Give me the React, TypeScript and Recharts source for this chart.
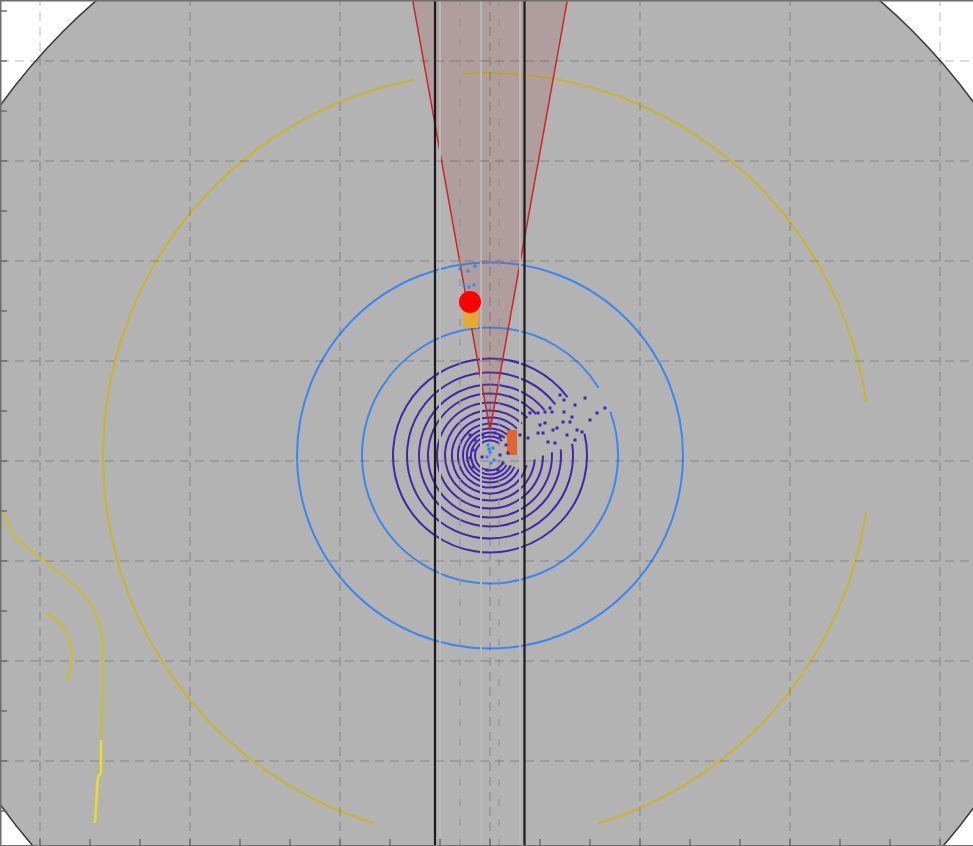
import React from "react";
import { ComposedChart, XAxis, YAxis, ReferenceArea, ReferenceLine, Line, Scatter } from "recharts";

const W = 973;
const H = 846;
const AX = 12; // axis size (mirrored axes sit inside the plot)

// axes limits and ticks (m)
const xLimits = [-49, 48.3];
const yLimits = [-38.5, 46.1];
const xTicks = [-45, -40, -35, -30, -25, -20, -15, -10, -5, 0, 5, 10, 15, 20, 25, 30, 35, 40, 45];
const yTicks = [-35, -30, -25, -20, -15, -10, -5, 0, 5, 10, 15, 20, 25, 30, 35, 40, 45];
const xGrid = [-45, -30, -15, 0, 15, 30, 45];
const yGrid = [-30, -20, -10, 0, 10, 20, 30, 40];

// plot coverage (gray disc)
const coverageCenter = [-0.2, 0.6];
const coverageRadius = 60;

// road
const laneBoundaries = [-5.5, 3.45];
const laneMarkings = [-3.0, 0.9];
const laneStripes = [-5.0, -0.9, 3.0];

// lidar rings around ego (radius, gap start/end in degrees)
const egoCenter = [0, 0.55];
const ringRadii = [9.7, 8.3, 7.1, 6.2, 5.3, 4.5, 3.8, 3.2, 2.7, 2.3, 1.9, 1.5];
const ringGapFrom = [13, 8, 5, 3, 0, -5, -15, -25, -25, -25, -30, -30];
const ringGapTo = [37, 38, 40, 42, 45, 45, 45, 48, 50, 50, 50, 50];
const beamRadii = [12.8, 19.3];
const beamGapFrom = [20, 0];
const beamGapTo = [32, 0];

// road boundary detections
const roadCenter = [-0.35, 0.45];
const roadRadius = 38.35;
const roadArcFrom = [100.9, 286.8, 8.2];
const roadArcTo = [253, 351.8, 93.4];

const edgeA = [
  { x: -48.7, y: -5.2 }, { x: -48.2, y: -6.4 }, { x: -47.5, y: -7.6 }, { x: -45.0, y: -9.7 },
  { x: -42.7, y: -11.4 }, { x: -41.0, y: -12.9 }, { x: -39.7, y: -14.6 }, { x: -39.0, y: -16.2 },
  { x: -38.7, y: -18.6 }, { x: -38.7, y: -21.9 }, { x: -38.8, y: -25.2 }, { x: -38.9, y: -27.9 },
];
const edgeABottom = [
  { x: -38.9, y: -27.9 }, { x: -38.9, y: -31.2 }, { x: -39.2, y: -31.6 }, { x: -39.3, y: -32.9 }, { x: -39.5, y: -36.2 },
];
const edgeB = [
  { x: -44.5, y: -15.2 }, { x: -43.7, y: -15.6 }, { x: -42.7, y: -16.6 }, { x: -42.0, y: -17.9 },
  { x: -41.8, y: -19.9 }, { x: -42.0, y: -20.9 }, { x: -42.3, y: -21.9 },
];

// radar coverage
const sensorApex = [0, 3.1];
const sensorHalfFov = 10.2;
const sensorRange = 50;

// detections / tracks
const trackPos = [{ x: -2.0, y: 15.9 }];
const trackBox = [-2.7, -1.2, 13.3, 14.9];
const nearBox = [1.7, 2.7, 0.6, 3.1];

const lidarPoints = [
  { x: 4.0, y: 4.8 }, { x: 4.8, y: 4.8 }, { x: 5.5, y: 4.9 }, { x: 6.2, y: 4.9 }, { x: 6.0, y: 5.3 },
  { x: 7.4, y: 6.1 }, { x: 7.4, y: 4.9 }, { x: 9.5, y: 6.3 }, { x: 10.7, y: 4.8 }, { x: 5.5, y: 3.8 },
  { x: 4.8, y: 2.8 }, { x: 5.3, y: 2.8 }, { x: 6.7, y: 3.3 }, { x: 7.7, y: 2.6 }, { x: 8.7, y: 3.1 },
  { x: 9.2, y: 2.9 }, { x: 5.8, y: 1.9 }, { x: 6.5, y: 1.8 }, { x: 3.8, y: 2.3 }, { x: 3.0, y: 2.6 },
  { x: 8.2, y: 4.4 }, { x: 7.3, y: 3.9 }, { x: 8.0, y: 3.9 }, { x: 6.3, y: 3.1 }, { x: 8.5, y: 2.1 },
  { x: 5.0, y: 3.6 }, { x: 11.5, y: 5.3 }, { x: 10.0, y: 4.1 }, { x: 7.0, y: 6.6 }, { x: 8.5, y: 5.6 },
  { x: -2.0, y: 2.6 }, { x: -1.5, y: 2.1 }, { x: -0.7, y: 2.6 }, { x: 0.5, y: 2.8 }, { x: 1.0, y: 2.4 },
  { x: -1.7, y: 1.1 }, { x: -0.8, y: 0.4 }, { x: 1.0, y: 0.6 }, { x: -1.7, y: -0.6 }, { x: -0.3, y: -0.9 },
  { x: 0.8, y: -0.9 }, { x: -2.0, y: 0.3 }, { x: 1.3, y: -0.2 }, { x: 1.6, y: 1.6 }, { x: 1.8, y: 0.8 },
];
const egoPoints = [
  { x: -0.2, y: 1.6 }, { x: 0.3, y: 1.3 }, { x: 0, y: 0.9 }, { x: -0.3, y: 0.4 }, { x: 0.4, y: 0.1 },
  { x: 0.1, y: -0.2 }, { x: -0.1, y: 1.2 },
];
const radarDets = [
  { x: -2.6, y: 17.6 }, { x: -1.6, y: 17.6 }, { x: -2.1, y: 17.4 }, { x: -3.0, y: 19.2 }, { x: -2.2, y: 19.0 }, { x: -1.5, y: 19.5 },
];

const rad = (d: number) => (d * Math.PI) / 180;

function arcPath(cx: number, cy: number, rx: number, ry: number, a0: number, a1: number) {
  const x0 = cx + rx * Math.cos(rad(a0));
  const y0 = cy - ry * Math.sin(rad(a0));
  const x1 = cx + rx * Math.cos(rad(a1));
  const y1 = cy - ry * Math.sin(rad(a1));
  const large = a1 - a0 > 180 ? 1 : 0;
  return `M${x0},${y0} A${rx},${ry} 0 ${large} 0 ${x1},${y1}`;
}

// circle (or arcs of it) drawn inside the box the reference area gets from the scales
const ringShape = (segments: number[][], color: string, width: number) => (p: any) => {
  const rx = p.width / 2;
  const ry = p.height / 2;
  const cx = p.x + rx;
  const cy = p.y + ry;
  if (segments.length === 0) {
    return <ellipse cx={cx} cy={cy} rx={rx} ry={ry} fill="none" stroke={color} strokeWidth={width} />;
  }
  return (
    <path
      d={segments.map(([a, b]) => arcPath(cx, cy, rx, ry, a, b)).join(" ")}
      fill="none"
      stroke={color}
      strokeWidth={width}
    />
  );
};

const discShape = (p: any) => (
  <ellipse
    cx={p.x + p.width / 2}
    cy={p.y + p.height / 2}
    rx={p.width / 2}
    ry={p.height / 2}
    fill="#b3b3b3"
    stroke="#363636"
    strokeWidth={1.5}
  />
);

const coneShape = (p: any) => {
  const pts = `${p.x + p.width / 2},${p.y + p.height} ${p.x},${p.y} ${p.x + p.width},${p.y}`;
  return <polygon points={pts} fill="#a95454" fillOpacity={0.22} stroke="#c8282a" strokeWidth={1.5} />;
};

const square = (color: string, size: number) => (p: any) => (
  <rect x={p.cx - size / 2} y={p.cy - size / 2} width={size} height={size} fill={color} />
);

const trackShape = (p: any) => <circle cx={p.cx} cy={p.cy} r={11} fill="#ff0000" />;

// tick marks only, no labels
const noLabel = () => <g />;

function circleBox(center: number[], r: number) {
  return { x1: center[0] - r, x2: center[0] + r, y1: center[1] - r, y2: center[1] + r };
}

export default function App() {
  const coneW = sensorRange * Math.sin(rad(sensorHalfFov));
  const coneH = sensorRange * Math.cos(rad(sensorHalfFov));
  const axisColor = "#6e6e6e";

  return (
    <div style={{ position: "absolute", left: 0, top: 0, background: "#fff" }}>
      <ComposedChart width={W} height={H} margin={{ top: 0, right: 0, bottom: 0, left: 0 }}>
        <ReferenceArea {...circleBox(coverageCenter, coverageRadius)} ifOverflow="hidden" shape={discShape} />

        {laneStripes.map((x) => (
          <ReferenceLine key={`s${x}`} x={x} stroke="#b9b9b9" strokeWidth={2} />
        ))}
        {laneMarkings.map((x) => (
          <ReferenceLine key={`m${x}`} x={x} stroke="#949494" strokeWidth={1.2} strokeDasharray="7 13" />
        ))}
        {xGrid.map((x) => (
          <ReferenceLine key={`gx${x}`} x={x} stroke="#262626" strokeOpacity={0.32} strokeDasharray="9 6" />
        ))}
        {yGrid.map((y) => (
          <ReferenceLine key={`gy${y}`} y={y} stroke="#262626" strokeOpacity={0.32} strokeDasharray="9 6" />
        ))}

        <ReferenceArea
          {...circleBox(roadCenter, roadRadius)}
          ifOverflow="hidden"
          shape={ringShape(roadArcFrom.map((a, i) => [a, roadArcTo[i]]), "#c9b52b", 2)}
        />

        {beamRadii.map((r, i) => (
          <ReferenceArea
            key={`b${r}`}
            {...circleBox(egoCenter, r)}
            ifOverflow="hidden"
            shape={ringShape(
              beamGapFrom[i] === beamGapTo[i] ? [] : [[beamGapTo[i], beamGapFrom[i] + 360]],
              "#3d86f2",
              2
            )}
          />
        ))}
        {ringRadii.map((r, i) => (
          <ReferenceArea
            key={`r${r}`}
            {...circleBox(egoCenter, r)}
            ifOverflow="hidden"
            shape={ringShape([[ringGapTo[i], ringGapFrom[i] + 360]], "#4128a8", 2)}
          />
        ))}

        <ReferenceArea
          x1={sensorApex[0] - coneW}
          x2={sensorApex[0] + coneW}
          y1={sensorApex[1]}
          y2={sensorApex[1] + coneH}
          ifOverflow="hidden"
          shape={coneShape}
        />

        <ReferenceArea x1={trackBox[0]} x2={trackBox[1]} y1={trackBox[2]} y2={trackBox[3]} ifOverflow="hidden" fill="#e9a832" fillOpacity={1} />
        <ReferenceArea x1={nearBox[0]} x2={nearBox[1]} y1={nearBox[2]} y2={nearBox[3]} ifOverflow="hidden" fill="#e0662c" fillOpacity={1} />

        <Line data={edgeA} dataKey="y" type="linear" stroke="#cdbd2a" strokeWidth={2} dot={false} activeDot={false} isAnimationActive={false} />
        <Line data={edgeABottom} dataKey="y" type="linear" stroke="#e6e01e" strokeWidth={2.5} dot={false} activeDot={false} isAnimationActive={false} />
        <Line data={edgeB} dataKey="y" type="linear" stroke="#cdbd2a" strokeWidth={2} dot={false} activeDot={false} isAnimationActive={false} />

        {laneBoundaries.map((x) => (
          <ReferenceLine key={`l${x}`} x={x} stroke="#1a1a1a" strokeWidth={2.2} />
        ))}

        <Scatter data={lidarPoints} shape={square("#4128a8", 3)} isAnimationActive={false} />
        <Scatter data={egoPoints} shape={square("#2f86e6", 3)} isAnimationActive={false} />
        <Scatter data={radarDets} shape={square("#3d86f2", 3)} isAnimationActive={false} />
        <Scatter data={trackPos} shape={trackShape} isAnimationActive={false} />

        <XAxis
          type="number"
          dataKey="x"
          domain={xLimits}
          allowDataOverflow
          ticks={xTicks}
          interval={0}
          height={AX}
          mirror
          tick={noLabel}
          tickSize={7}
          tickLine={{ stroke: axisColor, strokeWidth: 1.5 }}
          axisLine={{ stroke: axisColor, strokeWidth: 2 }}
        />
        <XAxis
          xAxisId="top"
          orientation="top"
          type="number"
          domain={xLimits}
          allowDataOverflow
          ticks={xTicks}
          interval={0}
          height={AX}
          mirror
          tick={noLabel}
          tickSize={7}
          tickLine={{ stroke: axisColor, strokeWidth: 1.5 }}
          axisLine={{ stroke: axisColor, strokeWidth: 3 }}
        />
        <YAxis
          type="number"
          dataKey="y"
          domain={yLimits}
          allowDataOverflow
          ticks={yTicks}
          interval={0}
          width={AX}
          mirror
          tick={noLabel}
          tickSize={7}
          tickLine={{ stroke: axisColor, strokeWidth: 1.5 }}
          axisLine={{ stroke: axisColor, strokeWidth: 3 }}
        />
      </ComposedChart>
    </div>
  );
}
